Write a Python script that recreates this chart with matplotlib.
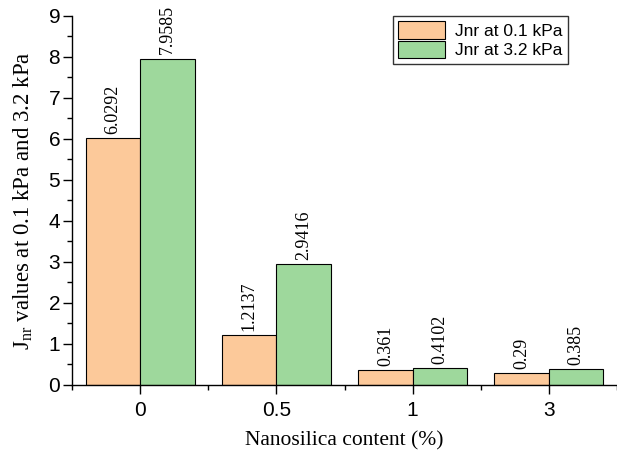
import matplotlib
matplotlib.use("Agg")
import matplotlib.pyplot as plt
import numpy as np

categories = ["0", "0.5", "1", "3"]
jnr_01 = [6.0292, 1.2137, 0.361, 0.29]
jnr_32 = [7.9585, 2.9416, 0.4102, 0.385]
labels_01 = ["6.0292", "1.2137", "0.361", "0.29"]
labels_32 = ["7.9585", "2.9416", "0.4102", "0.385"]

plt.rcParams["font.family"] = "Liberation Sans"
plt.rcParams["mathtext.fontset"] = "custom"
plt.rcParams["mathtext.rm"] = "Liberation Serif"

fig = plt.figure(figsize=(6.17, 4.54), dpi=100)
ax = fig.add_axes([0.1167, 0.152, 0.8833, 0.813])

x = np.arange(len(categories))
w = 0.4
b1 = ax.bar(x - w / 2, jnr_01, w, color="#fcc99a", edgecolor="black", linewidth=0.8,
            label="Jnr at 0.1 kPa")
b2 = ax.bar(x + w / 2, jnr_32, w, color="#9ed89c", edgecolor="black", linewidth=0.8,
            label="Jnr at 3.2 kPa")

for bars, labs in [(b1, labels_01), (b2, labels_32)]:
    for rect, lab in zip(bars, labs):
        ax.annotate(lab, (rect.get_x() + rect.get_width() / 2, rect.get_height()),
                    xytext=(0, 3), textcoords="offset points", rotation=90,
                    ha="center", va="bottom", fontsize=13, family="Liberation Serif")

ax.set_xlim(-0.5, 3.5)
ax.set_ylim(0, 9)
ax.set_xticks(x)
ax.set_xticklabels(categories)
ax.set_xticks(np.arange(-0.5, 3.6, 1), minor=True)
ax.set_yticks(np.arange(0, 10, 1))
ax.set_yticks(np.arange(0, 9.01, 0.5), minor=True)
ax.tick_params(axis="both", which="major", labelsize=15, length=6.5, width=1, direction="out")
ax.tick_params(axis="y", which="major", pad=2)
ax.tick_params(axis="x", which="major", pad=5)
ax.tick_params(axis="both", which="minor", length=3.5, width=1, direction="out")

for s in ["top", "right"]:
    ax.spines[s].set_visible(False)
for s in ["left", "bottom"]:
    ax.spines[s].set_linewidth(1)

ax.set_xlabel("Nanosilica content (%)", family="Liberation Serif", fontsize=15.5, labelpad=8)
ax.set_ylabel(r"J$_{\mathrm{nr}}$ values at 0.1 kPa and 3.2 kPa", family="Liberation Serif",
              fontsize=16.5, labelpad=10)

leg = ax.legend(loc="upper right", bbox_to_anchor=(0.91, 1.0), borderaxespad=0,
                fontsize=12.5, frameon=True, fancybox=False, edgecolor="black",
                handlelength=2.7, handleheight=1.2, borderpad=0.3, labelspacing=0.1,
                handletextpad=0.6)
leg.get_frame().set_linewidth(1)

fig.savefig("out.png", dpi=100)
